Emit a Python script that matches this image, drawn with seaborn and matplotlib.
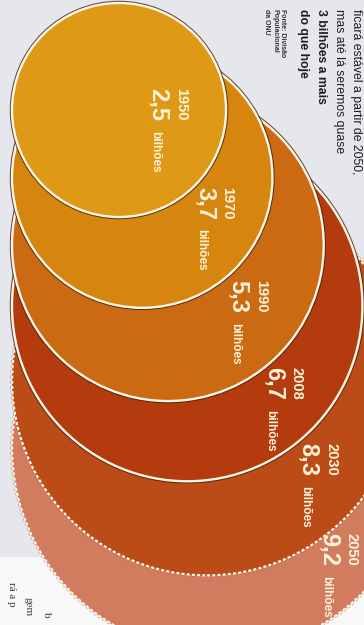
import numpy as np
import pandas as pd
import matplotlib
matplotlib.use("Agg")
import matplotlib.pyplot as plt
import matplotlib.patheffects as pe
from matplotlib.patches import Rectangle
import seaborn as sns

# ---- data -------------------------------------------------------------
years = [1950, 1970, 1990, 2008, 2030, 2050]
population = [2.5, 3.7, 5.3, 6.7, 8.3, 9.2]          # bilhões de pessoas
projected = [False, False, False, False, True, True]
unit_label = "bilhões"

note_lines = ["ficará estável a partir de 2050,",
              "mas até lá seremos quase",
              "3 bilhões a mais",
              "do que hoje"]
note_bold = [False, False, True, True]
source_lines = ["Fonte: Divisão", "Populacional", "da ONU"]
side_fragments = ["b", "gem", "rá a p"]

# ---- style ------------------------------------------------------------
fill_colors = ["#DE9A16", "#D6860F", "#CB6A12", "#B43B0D", "#BC4C17", "#D17C5E"]
ring_shadow = "#4A2008"
label_color = "#FFF3DA"
panel_color = "#E6E7ED"

DPI = 100
W, H = 364, 625
BASE_X = 12            # common tangent line of all circles
K_PX = 67.7            # radius in px per sqrt(bilhão)
Y0, Y_PER_YEAR = 110, 3.38
# (distance of number baseline from circle's outer edge, offset along year axis)
label_offsets = [(74, -22), (74, 9), (92, 35), (95, 61), (100, 63), (100, 85)]

sns.set_theme(style="white")
plt.rcParams["font.family"] = ["Liberation Sans", "DejaVu Sans"]

fig = plt.figure(figsize=(W / DPI, H / DPI), dpi=DPI, facecolor="#F8F8F8")
ax = fig.add_axes([0, 0, 1, 1])
ax.set_facecolor("#F8F8F8")
ax.add_patch(Rectangle((0, 0), W, 557, color=panel_color, zorder=0, lw=0))

df = pd.DataFrame({"year": years, "pop": population, "proj": projected})
df["r"] = K_PX * np.sqrt(df["pop"])
df["cx"] = BASE_X + df["r"]
df["cy"] = Y0 + Y_PER_YEAR * (df["year"] - years[0])

pt_per_px = 72 / DPI
def area_pt2(p):
    return (2 * K_PX * pt_per_px) ** 2 * p

size_range = (area_pt2(min(population)), area_pt2(max(population)))
size_norm = (min(population), max(population))

# largest circle first so the smaller ones sit on top
for i in df.sort_values("pop", ascending=False).index:
    sub = df.loc[[i]]
    if df.loc[i, "proj"]:
        extra = dict(linestyle=(0, (1.3, 0.9)),
                     path_effects=[pe.Stroke(linewidth=2.4, foreground="#7A3A1A", alpha=0.6),
                                   pe.Normal()])
    else:
        extra = dict(path_effects=[pe.Stroke(linewidth=3.2, foreground=ring_shadow, alpha=0.8),
                                   pe.Normal()])
    sns.scatterplot(data=sub, x="cx", y="cy", size="pop", sizes=size_range,
                    size_norm=size_norm, color=fill_colors[i], edgecolor="#FFF8EA",
                    linewidth=1.7, legend=False, ax=ax, zorder=2, **extra)

# value labels, written along the circles
rot = dict(rotation=270, rotation_mode="anchor", ha="left", va="baseline")
for i, row in df.iterrows():
    dx, dy = label_offsets[i]
    bx = row["cx"] + row["r"] - dx
    sy = row["cy"] + dy
    ax.text(bx + 25, sy, str(int(row["year"])), fontsize=10.5, fontweight="bold",
            color=label_color, zorder=5, **rot)
    num = f"{row['pop']:.1f}".replace(".", ",")
    t = ax.text(bx, sy, num, fontsize=17, fontweight="bold", color=label_color,
                zorder=5, **rot)
    ax.annotate(unit_label, xy=(bx, 0), xycoords=("data", t), xytext=(0, -7),
                textcoords="offset points", fontsize=8.5, fontweight="bold",
                color=label_color, zorder=5, **rot)

# explanatory note and source
for x, line, bold in zip([353, 336, 318, 300], note_lines, note_bold):
    ax.text(x, 9, line, fontsize=8.8, fontweight="bold" if bold else "medium",
            color="#1C1C1C", zorder=5, **rot)
for x, line in zip([281, 273, 265], source_lines):
    ax.text(x, 9, line, fontsize=5, fontweight="bold", color="#333333", zorder=5, **rot)

# fragments of the neighbouring column
for x, y, frag in zip([44, 25, 9], [612, 597, 582], side_fragments):
    ax.text(x, y, frag, fontsize=8, family=["Liberation Serif", "DejaVu Serif"],
            color="#3A3A3A", zorder=1, **rot)

ax.set_xlim(0, W)
ax.set_ylim(H, 0)
ax.axis("off")
fig.savefig("out.png", dpi=DPI, facecolor=fig.get_facecolor())
